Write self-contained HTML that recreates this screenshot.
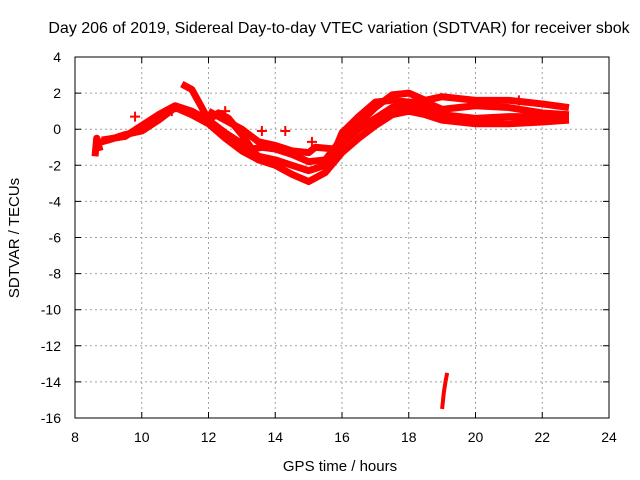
<!DOCTYPE html>
<html><head><meta charset="utf-8"><style>
body{margin:0;background:#fff}
svg{display:block;font-family:"Liberation Sans",sans-serif}
</style></head><body>
<svg id="c" width="640" height="480"></svg>
<script>
const xTicks=[8,10,12,14,16,18,20,22,24];
const yTicks=[4,2,0,-2,-4,-6,-8,-10,-12,-14,-16];
const seriesA=[[8.6,-0.8],[9,-0.6],[9.5,-0.3],[10,-0.1],[10.5,0.5],[11,1.2],[11.5,0.8],[12,0.3],[12.5,-0.5],[13,-1.2],[13.5,-1.7],[14,-2.0],[14.5,-2.5],[15,-2.9],[15.5,-2.4],[16,-1.3],[16.5,-0.5],[17,0.2],[17.5,0.8],[18,1.0],[18.5,0.8],[19,0.5],[20,0.3],[21,0.3],[22,0.4],[22.8,0.5]];
const seriesB=[[8.8,-0.6],[9.5,-0.4],[10,0.2],[10.5,0.8],[11,1.3],[11.5,1.0],[12,0.5],[12.5,-0.2],[13,-0.8],[13.5,-1.5],[14,-1.7],[14.5,-2.0],[15,-2.3],[15.5,-2.0],[16,-0.8],[16.5,0],[17,0.6],[17.5,1.2],[18,1.3],[18.5,1.1],[19,0.8],[20,0.6],[21,0.7],[22,0.7],[22.8,0.7]];
const seriesC=[[11.2,2.5],[11.5,2.2],[11.8,1.2],[12,0.5],[12.3,0.9],[12.6,0.6],[13,-0.3],[13.3,-1.1],[13.6,-1.0],[14,-1.1],[14.5,-1.4],[15,-1.8],[15.5,-1.7],[16,-0.5],[16.5,0.3],[17,1.2],[17.5,1.9],[18,2.0],[18.5,1.6],[19,1.8],[20,1.6],[21,1.6],[21.5,1.5],[22,1.4],[22.8,1.2]];
const seriesD=[[12,1.0],[12.5,0.5],[13,0.0],[13.5,-0.7],[14,-0.9],[14.5,-1.2],[15,-1.3],[15.2,-1.0],[15.8,-1.1],[16,-0.2],[16.5,0.7],[17,1.5],[17.5,1.6],[18,1.5],[18.5,1.5],[19,1.1],[19.5,1.2],[20,1.3],[21,1.2],[22,0.9],[22.8,0.8]];
const seriesE=[[8.6,-1.5],[8.65,-0.5],[8.75,-1.2]];
const seriesOut=[[19.0,-15.5],[19.05,-14.6],[19.1,-14.0],[19.15,-13.5]];
const crosses=[[9.8,0.7],[10.9,1.0],[12.5,1.0],[13.6,-0.1],[14.3,-0.1],[15.1,-0.7],[16.3,0.2],[21.3,1.6]];
const X0=75,X1=609,Y0=57,Y1=418;
const sx=h=>X0+(h-8)/16*(X1-X0);
const sy=v=>Y0+(4-v)/20*(Y1-Y0);
const svg=document.getElementById('c');const NS='http://www.w3.org/2000/svg';
function mk(t,a,p){const e=document.createElementNS(NS,t);for(const k in a)e.setAttribute(k,a[k]);(p||svg).appendChild(e);return e;}
for(const t of xTicks){
 const g=mk('line',{x1:sx(t),x2:sx(t),y1:Y0,y2:Y1,stroke:'#a0a0a0','stroke-dasharray':'2,3'});
 
 
 const tk=mk('path',{d:`M${sx(t)},${Y1}v-6M${sx(t)},${Y0}v6`,stroke:'#000'});
 
 
 const l=mk('text',{x:sx(t),y:442,'text-anchor':'middle','font-size':14});l.textContent=t;
 
 
}
for(const t of yTicks){
 const g=mk('line',{x1:X0,x2:X1,y1:sy(t),y2:sy(t),stroke:'#a0a0a0','stroke-dasharray':'2,3'});
 
 
 const tk=mk('path',{d:`M${X0},${sy(t)}h6M${X1},${sy(t)}h-6`,stroke:'#000'});
 
 
 const l=mk('text',{x:X0-14,y:sy(t)+5,'text-anchor':'end','font-size':14});l.textContent=t;
 
 
}
const fr=mk('rect',{x:X0,y:Y0,width:X1-X0,height:Y1-Y0,fill:'none',stroke:'#000'});


[seriesA,seriesB,seriesC,seriesD,seriesE,seriesOut].forEach((s,i)=>{
 const p=mk('polyline',{points:s.map(d=>sx(d[0])+','+sy(d[1])).join(' '),fill:'none',stroke:'#ff0000','stroke-width':i==5?4:7,'stroke-linejoin':'round'});
 
 
});
for(const d of crosses){
 const x=sx(d[0]),y=sy(d[1]);
 const p=mk('path',{d:`M${x-5},${y}H${x+5}M${x},${y-5}V${y+5}`,stroke:'#ff0000','stroke-width':2});
 
 
}
const t=mk('text',{x:339,y:33,'text-anchor':'middle','font-size':16});t.textContent='Day 206 of 2019, Sidereal Day-to-day VTEC variation (SDTVAR) for receiver sbok';


const xl=mk('text',{x:340,y:471,'text-anchor':'middle','font-size':15});xl.textContent='GPS time / hours';


const yl=mk('text',{x:19,y:238,'text-anchor':'middle','font-size':15,transform:'rotate(-90 19 238)'});yl.textContent='SDTVAR / TECUs';


</script>
</body></html>
